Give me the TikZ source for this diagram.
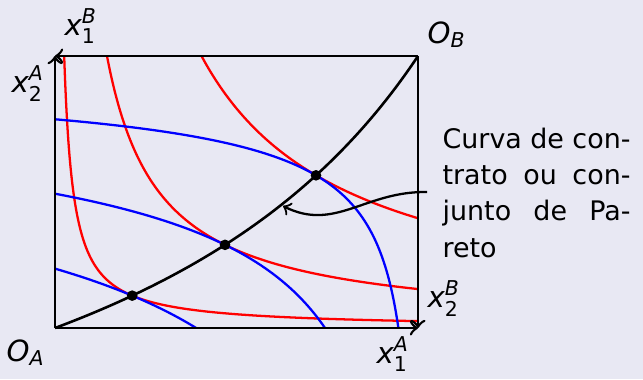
\documentclass[tikz,border=0pt]{standalone}
\usepackage{fontspec}
\setmainfont{DejaVu Sans}
\usepackage{amsmath}
\definecolor{bg}{RGB}{232,232,243}
\newcommand\axlbl[3]{$\textit{#1}_{\textup{#2}}^{\textit{#3}}$}
\begin{document}
\begin{tikzpicture}[x=32.895pt,y=32.895pt,
  font=\fontsize{8.85}{12}\selectfont,
  axis/.style={line width=0.85pt,->},
  redcurve/.style={red,line width=0.75pt},
  bluecurve/.style={blue,line width=0.75pt},
  contract/.style={black,line width=0.85pt},
  tandot/.style={circle,fill=black,inner sep=0pt,minimum size=3.5pt},
  lbl/.style={inner sep=0pt,anchor=base west,font=\fontsize{9.6}{12}\selectfont},
  pointer/.style={black,line width=0.75pt,->}]
\useasboundingbox[fill=bg] (-0.55,-0.51) rectangle (5.88,3.28);
% corners
\coordinate (OA) at (0,0);
\coordinate (OB) at (3.63,2.72);
\coordinate (BR) at (3.63,0);
\coordinate (TL) at (0,2.72);
% indifference curves of A (red)
\draw[redcurve] plot[domain=-2.38693:1.2892,samples=120,smooth] ({exp(\x)},{0.25/exp(\x)});
\draw[redcurve] plot[domain=-0.6542:1.2892,samples=100,smooth] ({exp(\x)},{1.414/exp(\x)});
\draw[redcurve] plot[domain=0.3819:1.2892,samples=80,smooth] ({exp(\x)},{3.985/exp(\x)});
% indifference curves of B (blue)
\draw[bluecurve] plot[domain=2.1262:2.72,samples=80,smooth] ({3.63-16.410/(\x*\x)},{2.72-\x});
\draw[bluecurve] plot[domain=1.3767:2.72,samples=100,smooth] ({3.63-6.8814/(\x*\x)},{2.72-\x});
\draw[bluecurve] plot[domain=0.63246:2.72,samples=160,smooth] ({3.63-1.4522/(\x*\x)},{2.72-\x});
% box / axes
\draw[axis] (OA) -- (BR);
\draw[axis] (OA) -- (TL);
\draw[axis] (OB) -- (TL);
\draw[axis] (OB) -- (BR);
% contract curve
\draw[contract] plot[domain=0:3.63,samples=80,smooth] ({\x},{\x*2.72/(7.26-\x)});
\node[tandot] (d1) at (0.7722,0.3237) {};
\node[tandot] (d2) at (1.7001,0.8317) {};
\node[tandot] (d3) at (2.61,1.5268) {};
% labels
\node[lbl] (x1B) at (0.09,2.93) {\axlbl{x}{1}{B}};
\node[lbl] (x2A) at (-0.44,2.36) {\axlbl{x}{2}{A}};
\node[lbl] (OBl) at (3.72,2.85) {$\textit{O}_{\textit{B}}$};
\node[lbl] (x2B) at (3.72,0.21) {\axlbl{x}{2}{B}};
\node[lbl] (x1A) at (3.21,-0.35) {\axlbl{x}{1}{A}};
\node[lbl] (OAl) at (-0.49,-0.33) {$\textit{O}_{\textit{A}}$};
\node[inner sep=0pt,anchor=base west] (txt) at (3.87,1.80) {\parbox[t]{61.8pt}{%
  \makebox[\linewidth][s]{Curva de con-}\\
  \makebox[\linewidth][s]{trato ou con-}\\
  \makebox[\linewidth][s]{junto de Pa-}\\
  reto}};
% pointer
\coordinate (ptrstart) at (3.72,1.36);
\coordinate (ptrend) at (2.28,1.22);
\draw[pointer] (ptrstart) .. controls (3.10,1.37) and (2.80,0.96) .. (ptrend);
\end{tikzpicture}
\end{document}
